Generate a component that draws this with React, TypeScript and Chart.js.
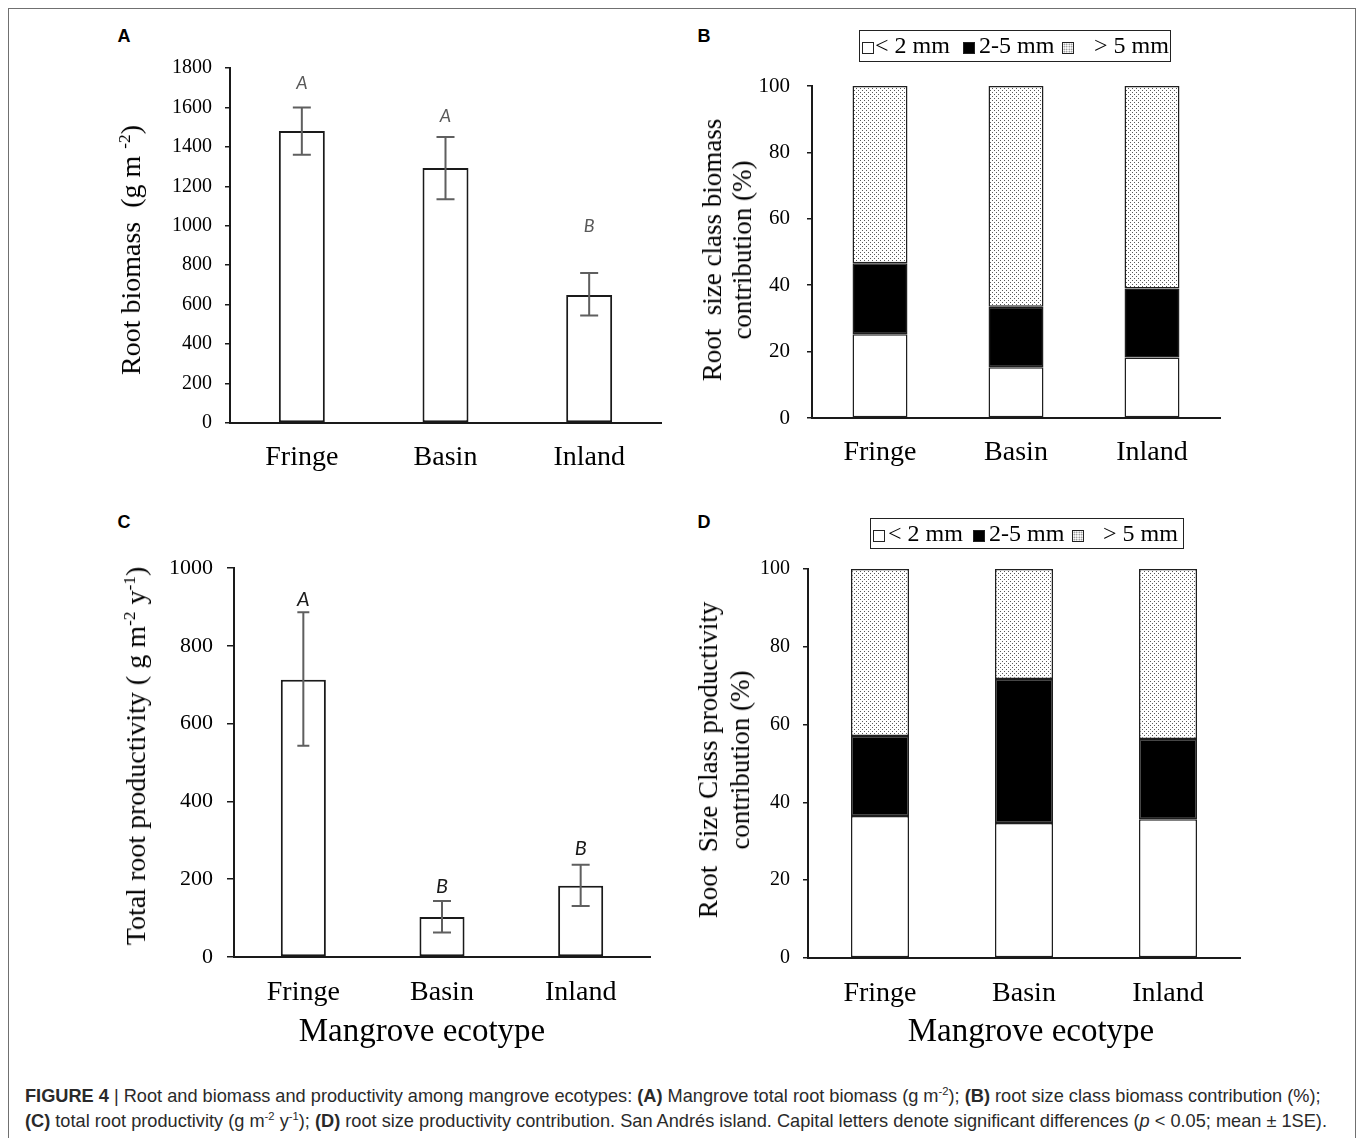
import React, { useEffect, useRef } from 'react';
import { Chart, registerables } from 'chart.js';
Chart.register(...registerables);

const SERIF = '"Liberation Serif", "Times New Roman", Times, serif';
const SANS = '"Liberation Sans", Arial, Helvetica, sans-serif';
const LETTER = 'Lato, "Open Sans", sans-serif';

const categories = ['Fringe', 'Basin', 'Inland'];

// Panel A: total root biomass (g m-2)
const biomassMean = [1480, 1293, 649];
const biomassLow = [1360, 1135, 545];
const biomassHigh = [1600, 1450, 760];
const biomassLetters = ['A', 'A', 'B'];
const biomassLetterAt = [1724, 1557, 999];

// Panel B: size class biomass contribution (%)
const biomassFine = [25.2, 15.3, 18.2];
const biomassMedium = [21.4, 18.2, 20.8];
const biomassCoarse = [53.4, 66.5, 61.0];

// Panel C: total root productivity (g m-2 y-1)
const prodMean = [713, 103, 183];
const prodLow = [543, 63, 131];
const prodHigh = [886, 144, 237];
const prodLetters = ['A', 'B', 'B'];
const prodLetterAt = [919, 181, 279];

// Panel D: size class productivity contribution (%)
const prodFine = [36.5, 34.7, 35.7];
const prodMedium = [20.6, 37.0, 20.6];
const prodCoarse = [42.9, 28.3, 43.7];

const legendLabels = ['< 2 mm', '2-5 mm', '> 5 mm'];

type Geo = {
  left: number; top: number; bottom: number; right: number;
  max: number; step: number;
  tickSize: number; tickPad: number; tickLen: number;
  catPad: number; barPct: number;
};

const YW = 90;
const XH = 70;
const PT = 36;
const PR = 10;

function boxOf(g: Geo) {
  return {
    x: Math.round(g.left - YW),
    y: Math.round(g.top - PT),
    w: Math.round(YW + (g.right - g.left) + PR),
    h: Math.round(PT + (g.bottom - g.top) + XH),
  };
}

function makePattern() {
  const p = document.createElement('canvas');
  p.width = 4; p.height = 4;
  const c = p.getContext('2d')!;
  c.fillStyle = '#ffffff';
  c.fillRect(0, 0, 4, 4);
  c.fillStyle = '#5a5a5a';
  c.fillRect(0, 0, 1, 1);
  c.fillRect(2, 2, 1, 1);
  return c.createPattern(p, 'repeat')!;
}

function errPlugin(low: number[], high: number[], caps: number[], letters: string[], letterAt: number[], letterFont: string, letterColor: string) {
  return {
    id: 'errbars',
    afterDatasetsDraw(chart: any) {
      const { ctx } = chart;
      const x = chart.scales.x;
      const y = chart.scales.y;
      ctx.save();
      ctx.strokeStyle = '#5f5f5f';
      ctx.lineWidth = 2;
      low.forEach((lo, i) => {
        const px = x.getPixelForValue(i);
        const y1 = y.getPixelForValue(lo);
        const y2 = y.getPixelForValue(high[i]);
        const hw = caps[i] / 2;
        ctx.beginPath();
        ctx.moveTo(px, y1); ctx.lineTo(px, y2);
        ctx.moveTo(px - hw, y1); ctx.lineTo(px + hw, y1);
        ctx.moveTo(px - hw, y2); ctx.lineTo(px + hw, y2);
        ctx.stroke();
      });
      ctx.font = letterFont;
      ctx.fillStyle = letterColor;
      ctx.textAlign = 'center';
      ctx.textBaseline = 'middle';
      letters.forEach((t, i) => {
        ctx.fillText(t, x.getPixelForValue(i), y.getPixelForValue(letterAt[i]));
      });
      ctx.restore();
    },
  };
}

function buildConfig(g: Geo, datasets: any[], stacked: boolean, plugins: any[]) {
  return {
    type: 'bar',
    data: { labels: categories, datasets },
    plugins,
    options: {
      responsive: false,
      animation: false,
      layout: { padding: { top: PT, right: PR, left: 0, bottom: 0 } },
      plugins: { legend: { display: false }, tooltip: { enabled: false } },
      datasets: { bar: { categoryPercentage: 1, barPercentage: g.barPct } },
      scales: {
        x: {
          stacked,
          grid: { display: false, drawTicks: false },
          border: { display: true, color: '#1a1a1a', width: 2 },
          ticks: { color: '#000', font: { family: SERIF, size: 28 }, padding: g.catPad, maxRotation: 0 },
          afterFit: (s: any) => { s.height = XH; },
        },
        y: {
          stacked,
          min: 0,
          max: g.max,
          ticks: { stepSize: g.step, color: '#000', font: { family: SERIF, size: g.tickSize }, padding: g.tickPad, callback: (v: any) => String(v) },
          grid: { drawOnChartArea: false, drawTicks: true, tickLength: g.tickLen, color: '#1a1a1a', lineWidth: 1.5 },
          border: { display: true, color: '#1a1a1a', width: 2 },
          afterFit: (s: any) => { s.width = YW; },
        },
      },
    },
  };
}

function ChartCanvas({ g, make }: { g: Geo; make: () => any }) {
  const ref = useRef<HTMLCanvasElement>(null);
  const b = boxOf(g);
  useEffect(() => {
    const chart = new Chart(ref.current as HTMLCanvasElement, make());
    return () => chart.destroy();
  }, []);
  return (
    <canvas
      ref={ref}
      width={b.w}
      height={b.h}
      style={{ position: 'absolute', left: b.x, top: b.y, width: b.w, height: b.h }}
    />
  );
}

const geoA: Geo = { left: 230, top: 68, bottom: 423, right: 660.5, max: 1800, step: 200, tickSize: 20, tickPad: 13, tickLen: 5, catPad: 18, barPct: 0.32 };
const geoB: Geo = { left: 812, top: 86, bottom: 418, right: 1220, max: 100, step: 20, tickSize: 21, tickPad: 17, tickLen: 5, catPad: 18, barPct: 0.404 };
const geoC: Geo = { left: 233.6, top: 568, bottom: 957, right: 649.8, max: 1000, step: 200, tickSize: 22, tickPad: 14, tickLen: 7, catPad: 19, barPct: 0.325 };
const geoD: Geo = { left: 808, top: 569, bottom: 958, right: 1240, max: 100, step: 20, tickSize: 20, tickPad: 13, tickLen: 5, catPad: 19, barPct: 0.403 };

function singleSet(data: number[]) {
  return [{ data, backgroundColor: '#ffffff', borderColor: '#1a1a1a', borderWidth: 2, borderSkipped: false }];
}

function stackSets(fine: number[], medium: number[], coarse: number[]) {
  const pat = makePattern();
  const base = { borderColor: '#1f1f1f', borderWidth: 1.5, borderSkipped: false };
  return [
    { ...base, label: legendLabels[0], data: fine, backgroundColor: '#ffffff' },
    { ...base, label: legendLabels[1], data: medium, backgroundColor: '#000000' },
    { ...base, label: legendLabels[2], data: coarse, backgroundColor: pat },
  ];
}

const abs = (x: number, y: number): React.CSSProperties => ({
  position: 'absolute', left: x, top: y, transform: 'translate(-50%, -50%)', whiteSpace: 'pre',
});

function YTitle({ x, y, lines, size, lh }: { x: number; y: number; lines: React.ReactNode[]; size: number; lh: number }) {
  return (
    <div style={{ ...abs(x, y), transform: 'translate(-50%, -50%) rotate(-90deg)', fontFamily: SERIF, fontSize: size, lineHeight: lh + 'px', textAlign: 'center', color: '#000' }}>
      {lines.map((l, i) => <div key={i}>{l}</div>)}
    </div>
  );
}

function Legend({ x, y, w, h, sq, tx }: { x: number; y: number; w: number; h: number; sq: number[]; tx: number[] }) {
  const sqStyle = (i: number): React.CSSProperties => {
    const s: React.CSSProperties = {
      position: 'absolute', left: sq[i], top: (h - 12) / 2 + 1, width: 12, height: 12, boxSizing: 'border-box',
      border: '1px solid #222',
      backgroundColor: i === 1 ? '#000000' : '#ffffff',
    };
    if (i === 2) {
      s.backgroundImage = 'radial-gradient(#666 0.7px, transparent 0.9px)';
      s.backgroundSize = '2.5px 2.5px';
    }
    return s;
  };
  return (
    <div style={{ position: 'absolute', left: x, top: y, width: w, height: h, boxSizing: 'border-box', border: '1.5px solid #222', fontFamily: SERIF, fontSize: 24, color: '#000' }}>
      {legendLabels.map((t, i) => (
        <React.Fragment key={i}>
          <div style={sqStyle(i)} />
          <div style={{ position: 'absolute', left: tx[i], top: 0, height: h - 3, lineHeight: (h - 3) + 'px', whiteSpace: 'pre' }}>{t}</div>
        </React.Fragment>
      ))}
    </div>
  );
}

const sup: React.CSSProperties = { fontSize: '0.62em', verticalAlign: 'super', lineHeight: 0 };

export default function App() {
  const panelLabel: React.CSSProperties = { fontFamily: SANS, fontWeight: 'bold', fontSize: 18, color: '#000' };
  const cap: React.CSSProperties = { position: 'absolute', left: 25, fontFamily: SANS, fontSize: 18.2, lineHeight: '22px', color: '#2a2a2a', whiteSpace: 'nowrap' };
  return (
    <div style={{ position: 'absolute', left: 0, top: 0, width: 1357, height: 1138, overflow: 'hidden', background: '#fff' }}>
      <div style={{ position: 'absolute', left: 8, top: 8, width: 1348, height: 1150, boxSizing: 'border-box', border: '1.5px solid #707070', borderBottom: 'none' }} />

      <ChartCanvas g={geoA} make={() => buildConfig(geoA, singleSet(biomassMean), false,
        [errPlugin(biomassLow, biomassHigh, [18, 18, 18], biomassLetters, biomassLetterAt, `italic 18px ${LETTER}`, '#595959')])} />
      <ChartCanvas g={geoB} make={() => buildConfig(geoB, stackSets(biomassFine, biomassMedium, biomassCoarse), true, [])} />
      <ChartCanvas g={geoC} make={() => buildConfig(geoC, singleSet(prodMean), false,
        [errPlugin(prodLow, prodHigh, [12, 18, 18], prodLetters, prodLetterAt, `italic 20px ${LETTER}`, '#1a1a1a')])} />
      <ChartCanvas g={geoD} make={() => buildConfig(geoD, stackSets(prodFine, prodMedium, prodCoarse), true, [])} />

      <div style={{ ...abs(124, 36), ...panelLabel }}>A</div>
      <div style={{ ...abs(704, 36), ...panelLabel }}>B</div>
      <div style={{ ...abs(124, 522), ...panelLabel }}>C</div>
      <div style={{ ...abs(704, 522), ...panelLabel }}>D</div>

      <YTitle x={131} y={250} size={28} lh={30} lines={[<span>Root biomass  (g m <span style={sup}>-2</span>)</span>]} />
      <YTitle x={727} y={250} size={27} lh={30} lines={['Root  size class biomass', 'contribution (%)']} />
      <YTitle x={136} y={756} size={28} lh={30} lines={[<span>Total root productivity ( g m<span style={sup}>-2</span> y<span style={sup}>-1</span>)</span>]} />
      <YTitle x={724} y={760} size={27} lh={32} lines={['Root  Size Class productivity', 'contribution (%)']} />

      <div style={{ ...abs(422, 1030), fontFamily: SERIF, fontSize: 33, color: '#000' }}>Mangrove ecotype</div>
      <div style={{ ...abs(1031, 1030), fontFamily: SERIF, fontSize: 33, color: '#000' }}>Mangrove ecotype</div>

      <Legend x={859} y={30} w={312} h={32} sq={[2, 103, 202]} tx={[15, 119, 234]} />
      <Legend x={870} y={518} w={314} h={31} sq={[2, 102, 201]} tx={[17, 118, 232]} />

      <div style={{ ...cap, top: 1085 }}>
        <b>FIGURE 4</b> | Root and biomass and productivity among mangrove ecotypes: <b>(A)</b> Mangrove total root biomass (g m<span style={sup}>-2</span>); <b>(B)</b> root size class biomass contribution (%);
      </div>
      <div style={{ ...cap, top: 1110 }}>
        <b>(C)</b> total root productivity (g m<span style={sup}>-2</span> y<span style={sup}>-1</span>); <b>(D)</b> root size productivity contribution. San Andrés island. Capital letters denote significant differences (<i>p</i> &lt; 0.05; mean ± 1SE).
      </div>
    </div>
  );
}
